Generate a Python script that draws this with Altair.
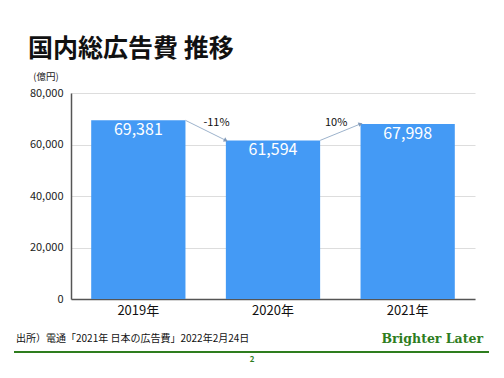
import altair as alt
import pandas as pd

# ---- data ----
years = ["2019年", "2020年", "2021年"]
values = [69381, 61594, 67998]
change_from = ["2019年", "2020年"]
change_to = ["2020年", "2021年"]
change_from_val = [69381, 61594]
change_to_val = [61594, 67998]
change_labels = ["-11%", "10%"]
y_ticks = [0, 20000, 40000, 60000, 80000]

title_text = "国内総広告費 推移"
unit_text = "(億円)"
source_text = "出所）電通「2021年 日本の広告費」2022年2月24日"
brand_text = "Brighter Later"
page_text = "2"

FONT = "Noto Sans CJK JP"
BAR = "#449AF5"
GREEN = "#2E7D1E"
ARROW = "#9DB3CC"

df = pd.DataFrame({"year": years, "value": values})
arr = pd.DataFrame({
    "from": change_from, "to": change_to,
    "v1": change_from_val, "v2": change_to_val,
    "label": change_labels,
})

xscale = alt.Scale(domain=years, paddingInner=0.3, paddingOuter=0.15)
yscale = alt.Scale(domain=[0, 80000])
xaxis = alt.Axis(title=None, labelAngle=0, ticks=False, labelFontSize=13,
                 labelColor="#111", labelPadding=5, domainColor="#555",
                 domainWidth=1.5, labelFont=FONT)
yaxis = alt.Axis(title=None, values=y_ticks, format=",.0f", ticks=False,
                 labelFontSize=11, labelColor="#222", labelPadding=8,
                 gridColor="#DDDDDD", domainColor="#555", domainWidth=1.5,
                 labelFont=FONT)

base = alt.Chart(df)

bars = base.mark_bar(color=BAR).encode(
    x=alt.X("year:N", scale=xscale, sort=years, axis=xaxis),
    y=alt.Y("value:Q", scale=yscale, axis=yaxis),
)

bar_labels = base.mark_text(color="white", fontSize=16, baseline="top", dy=2,
                            font=FONT).encode(
    x=alt.X("year:N", scale=xscale, sort=years, axis=xaxis),
    y=alt.Y("value:Q", scale=yscale, axis=yaxis),
    text=alt.Text("value:Q", format=","),
)

arrows = alt.Chart(arr).mark_rule(color=ARROW, strokeWidth=1).encode(
    x=alt.X("from:N", scale=xscale, sort=years, bandPosition=1, axis=xaxis),
    x2=alt.X2("to:N", bandPosition=0),
    y=alt.Y("v1:Q", scale=yscale, axis=yaxis),
    y2="v2:Q",
)

heads = []
head_angles = [29, 338]
label_dx = [31, 16]
for i in range(len(change_labels)):
    sub = arr.iloc[[i]]
    heads.append(alt.Chart(sub).mark_point(shape="triangle-right", filled=True,
                                           color="#7F98B8", size=22, opacity=1,
                                           angle=head_angles[i], dx=-3).encode(
        x=alt.X("to:N", scale=xscale, sort=years, bandPosition=0, axis=xaxis),
        y=alt.Y("v2:Q", scale=yscale, axis=yaxis),
    ))
    heads.append(alt.Chart(sub).mark_text(fontSize=11, color="#111", font=FONT,
                                          dx=label_dx[i]).encode(
        x=alt.X("from:N", scale=xscale, sort=years, bandPosition=1, axis=xaxis),
        y=alt.value(30),
        text="label:N",
    ))

one = pd.DataFrame({"a": [0]})

def txt(t, x, y, **kw):
    return alt.Chart(one).mark_text(text=t, **kw).encode(x=alt.value(x), y=alt.value(y))

title = txt(title_text, -43, -36, fontSize=25, fontWeight="bold", align="left",
            baseline="alphabetic", font=FONT, color="#111")
unit = txt(unit_text, -25, -16, fontSize=9.5, align="center", font=FONT, color="#222")
source = txt(source_text, -55, 246, fontSize=10, align="left", font=FONT, color="#111")
brand = txt(brand_text, 412, 246, fontSize=12.5, align="right", font="DejaVu Serif",
            fontWeight="bold", color=GREEN)
page = txt(page_text, 181, 267, fontSize=8, align="center", font=FONT,
           fontWeight="bold", color=GREEN)
line = alt.Chart(one).mark_rule(color=GREEN, strokeWidth=2).encode(
    x=alt.value(-57), x2=alt.value(418), y=alt.value(259))

chart = alt.layer(bars, bar_labels, arrows, *heads, title, unit, source, brand, page, line).properties(
    width=404, height=206,
    autosize=alt.AutoSizeParams(type="none"),
    padding={"left": 71, "top": 93, "right": 29, "bottom": 79},
    background="white",
).configure_view(stroke=None)

chart.save("out.html", embed_options={"renderer": "svg", "actions": False})
